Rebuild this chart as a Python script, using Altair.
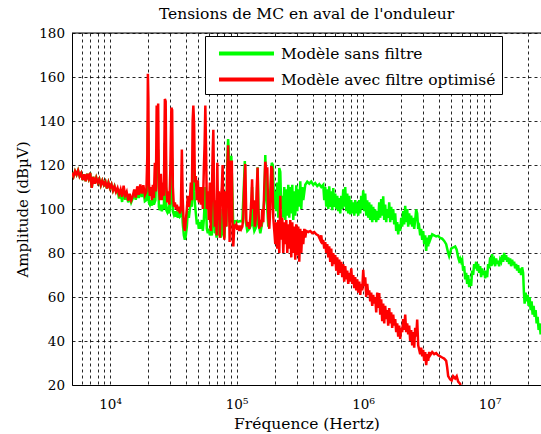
import altair as alt
import pandas as pd

# Frequencies are given as log10(f / Hz); amplitudes in dBµV.
# Below ~11 kHz both models give the same spectrum.
common_logf = [3.699, 3.711, 3.723, 3.735, 3.747, 3.759, 3.771, 3.783, 3.795, 3.807,
               3.819, 3.831, 3.843, 3.855, 3.867, 3.879, 3.891, 3.903, 3.915, 3.927,
               3.939, 3.951, 3.963, 3.975, 3.987, 3.999, 4.011, 4.023, 4.035, 4.047]
common_db = [116.5, 114.8, 117.2, 115.6, 117.5, 114.9, 116.3, 113.2, 115.8, 112.6,
             116.0, 113.8, 116.4, 109.6, 114.6, 111.5, 114.2, 112.0, 113.6, 110.8,
             112.9, 111.0, 112.4, 109.3, 112.0, 109.6, 111.2, 108.4, 110.3, 107.8]

# Model without filter
green_logf = [4.059, 4.071, 4.083, 4.095, 4.107, 4.119, 4.131, 4.143, 4.155, 4.167,
              4.179, 4.191, 4.203, 4.215, 4.227, 4.239, 4.251, 4.263, 4.275,
              4.2869, 4.2948, 4.2988, 4.3027, 4.3067, 4.3146, 4.3225, 4.3304, 4.3383, 4.3462,
              4.3580, 4.3683, 4.3801, 4.3857, 4.3936, 4.4015, 4.4094, 4.4173, 4.4252, 4.4331,
              4.4394, 4.4449, 4.4528, 4.4607, 4.4686, 4.4765, 4.4844, 4.4907, 4.4963, 4.5042,
              4.5121, 4.5200, 4.5279, 4.5358, 4.5437, 4.5516, 4.5595, 4.5674, 4.5737, 4.5832,
              4.5911, 4.5990, 4.6069, 4.6148, 4.6227, 4.6306, 4.6385, 4.6464, 4.6527, 4.6582,
              4.6645, 4.6701, 4.6780, 4.6859, 4.6938, 4.7017, 4.7096, 4.7175, 4.7254, 4.7333,
              4.7412, 4.7530, 4.7649, 4.7728, 4.7807, 4.7886, 4.7965, 4.8044, 4.8162, 4.8281,
              4.8360, 4.8423, 4.8478, 4.8597, 4.8676, 4.8755, 4.8834, 4.8897, 4.8952, 4.9031,
              4.9110, 4.9189, 4.9268, 4.9331, 4.9387, 4.9450, 4.9505, 4.9584, 4.9663, 4.9742,
              4.9821, 4.9979, 5.0137, 5.0295, 5.0453, 5.0572, 5.0651, 5.0730, 5.0848, 5.1006,
              5.1164, 5.1227, 5.1283, 5.1401, 5.1559, 5.1662, 5.1757, 5.1875, 5.2033, 5.2191,
              5.2270, 5.2349, 5.2507, 5.2665, 5.2784, 5.2863, 5.2981, 5.3060, 5.3139, 5.3218,
              5.3297, 5.3376, 5.3455, 5.3534, 5.3613, 5.3692, 5.3771, 5.3850, 5.3929, 5.4008,
              5.4087, 5.4166, 5.4245, 5.4324, 5.4403, 5.4482, 5.4561, 5.4640, 5.4719, 5.4798,
              5.4877, 5.4956, 5.5035, 5.5114, 5.5193, 5.5272, 5.5430, 5.5588, 5.5746, 5.5904,
              5.6062, 5.6220, 5.6378, 5.6536, 5.6694, 5.6852, 5.6931, 5.7010, 5.7089, 5.7168,
              5.7247, 5.7326, 5.7405, 5.7484, 5.7563, 5.7642, 5.7721, 5.7800, 5.7879, 5.7958,
              5.8037, 5.8116, 5.8195, 5.8274, 5.8353, 5.8432, 5.8511, 5.8590, 5.8669, 5.8748,
              5.8827, 5.8906, 5.8985, 5.9064, 5.9143, 5.9222, 5.9301, 5.9380, 5.9459, 5.9538,
              5.9617, 5.9696, 5.9775, 5.9854, 5.9933, 6.0012, 6.0091, 6.0170, 6.0249, 6.0328,
              6.0407, 6.0486, 6.0565, 6.0644, 6.0723, 6.0802, 6.0881, 6.0960, 6.1039, 6.1118,
              6.1197, 6.1276, 6.1355, 6.1434, 6.1513, 6.1592, 6.1671, 6.1750, 6.1829, 6.1908,
              6.1987, 6.2066, 6.2145, 6.2224, 6.2303, 6.2382, 6.2461, 6.2540, 6.2619, 6.2698,
              6.2777, 6.2856, 6.2935, 6.3014, 6.3093, 6.3172, 6.3251, 6.3330, 6.3409, 6.3488,
              6.3567, 6.3646, 6.3725, 6.3804, 6.3883, 6.3962, 6.4041, 6.4120, 6.4199, 6.4278,
              6.4357, 6.4436, 6.4515, 6.4594, 6.4673, 6.4752, 6.4831, 6.4910, 6.4989, 6.5068,
              6.5147, 6.5226, 6.5305, 6.5463, 6.5621, 6.5779, 6.5937, 6.6095, 6.6253, 6.6411,
              6.6569, 6.6648, 6.6727, 6.6806, 6.6885, 6.6964, 6.7122, 6.7280, 6.7399, 6.7517,
              6.7596, 6.7675, 6.7754, 6.7833, 6.7912, 6.7991, 6.8070, 6.8149, 6.8228, 6.8307,
              6.8386, 6.8465, 6.8544, 6.8623, 6.8702, 6.8781, 6.8860, 6.8939, 6.9018, 6.9097,
              6.9176, 6.9255, 6.9334, 6.9413, 6.9492, 6.9571, 6.9650, 6.9729, 6.9808, 6.9887,
              6.9966, 7.0045, 7.0124, 7.0203, 7.0282, 7.0361, 7.0440, 7.0519, 7.0598, 7.0677,
              7.0756, 7.0835, 7.0914, 7.0993, 7.1072, 7.1151, 7.1230, 7.1309, 7.1388, 7.1467,
              7.1546, 7.1625, 7.1704, 7.1783, 7.1862, 7.1941, 7.2020, 7.2099, 7.2178, 7.2257,
              7.2336, 7.2415, 7.2494, 7.2573, 7.2652, 7.2715, 7.2771, 7.2850, 7.2929, 7.3008,
              7.3087, 7.3166, 7.3245, 7.3324, 7.3403, 7.3482, 7.3561, 7.3640, 7.3719, 7.3798,
              7.3877, 7.3956, 7.4035, 7.4114]
green_db = [108.5, 104.8, 107.9, 103.2, 108.6, 104.2, 106.8, 103.0, 105.9, 103.0,
            104.8, 106.9, 104.2, 108.3, 105.0, 109.2, 105.5, 108.8, 103.5,
            104, 112, 140, 130, 103, 102, 104, 101.5, 105, 102,
            104, 125, 127, 101, 99.5, 102, 99, 102, 100, 130,
            129, 99.5, 98.5, 100, 98, 103, 125, 122, 99, 97.5,
            99, 96.5, 98, 96, 98, 96.5, 97, 105, 94, 88,
            86, 88, 92, 99, 96, 100, 104, 101, 112, 118,
            108, 103, 98, 93, 95, 91, 94, 91, 95, 90,
            95, 110, 91, 89, 91, 88, 90, 88, 108, 89,
            90, 87, 100, 88, 90, 87, 91, 100, 89, 87,
            96, 92, 122, 131.8, 126, 94, 116, 124.2, 108, 91,
            94.4, 94.5, 94.2, 94.5, 94.3, 110, 121.8, 94, 90, 91,
            93, 110, 94, 90, 92, 119, 93, 89, 94, 104,
            124.5, 108, 92, 108, 121, 120, 100, 108, 99, 112,
            96, 118.6, 116.9, 100, 106, 96, 110, 95, 109, 97,
            111, 96, 110, 98, 111, 95, 108, 97, 110.8, 99,
            109, 101, 112.6, 100, 110, 104, 111, 112.4, 111.5, 112.5,
            111, 111.8, 110.4, 111.3, 110, 111, 104, 110, 101, 109,
            100, 110.3, 101, 108, 99.5, 109.5, 101, 107, 100, 106,
            99, 105, 98, 106, 100, 109, 101, 110, 99, 107,
            98, 106, 97.5, 104, 98, 103, 97, 104, 98, 103,
            97, 104, 98, 106, 100, 108.5, 99, 107, 97, 104,
            96, 103, 95, 102, 94, 101, 95, 99.7, 94, 99,
            95, 103, 96, 104.5, 97, 105.8, 95, 102, 94, 100,
            96, 103, 94, 101, 95, 100, 93, 98, 90, 94,
            88.5, 93, 90, 96, 92, 99, 93, 101.4, 94, 100,
            92, 98, 93, 97, 92, 96, 91, 95, 99.8, 98,
            91, 92, 88, 91, 86, 90, 84, 88, 81, 87,
            83, 88, 86, 88.5, 88, 87.5, 87.8, 86.8, 86.5, 85.5,
            84, 82, 80, 78.5, 80, 82, 82.5, 83, 81.5, 78,
            76.5, 77.5, 76, 77, 72, 74, 68, 71, 66, 70,
            64.5, 68, 65, 72, 70, 75, 73, 76, 72, 75,
            71, 74, 69, 73, 70, 72, 68.5, 72, 69, 75,
            73, 78, 74, 79.5, 76, 77, 74, 77.5, 75, 76.5,
            74, 77, 76, 79, 76, 80, 77, 79, 76, 78,
            75, 77.5, 74, 77, 74.5, 76, 73, 75, 72, 74.5,
            71, 73, 70, 73.5, 71, 62, 57, 62, 58, 61,
            56, 60, 54, 58, 52, 56, 51, 54, 48, 51,
            45, 48, 43, 46]

# Model with optimised filter
red_logf = [4.059, 4.071, 4.083, 4.095, 4.107, 4.119, 4.131, 4.143, 4.155, 4.167,
            4.179, 4.191, 4.203, 4.215, 4.227, 4.239, 4.251, 4.263, 4.275,
            4.2869, 4.2948, 4.2988, 4.3027, 4.3067, 4.3146, 4.3225, 4.3304, 4.3383, 4.3462,
            4.3541, 4.3620, 4.3683, 4.3738, 4.3801, 4.3857,
            4.3936, 4.4015, 4.4094, 4.4173, 4.4252, 4.4331, 4.4394, 4.4449, 4.4528, 4.4607,
            4.4686, 4.4765, 4.4844, 4.4907, 4.4963,
            4.5042, 4.5121, 4.5200, 4.5279, 4.5358, 4.5437, 4.5516, 4.5595, 4.5674, 4.5737,
            4.5832, 4.5911, 4.5990, 4.6069, 4.6148, 4.6227, 4.6306, 4.6385, 4.6464,
            4.6527, 4.6582, 4.6645, 4.6701, 4.6780, 4.6859, 4.6938, 4.7017, 4.7096, 4.7175,
            4.7254, 4.7333, 4.7412, 4.7475, 4.7530, 4.7593, 4.7649, 4.7728, 4.7807, 4.7886,
            4.7965, 4.8044,
            4.8107, 4.8162, 4.8217, 4.8281, 4.8360, 4.8423, 4.8478, 4.8541, 4.8597, 4.8676,
            4.8755, 4.8834, 4.8897, 4.8952, 4.9031, 4.9110, 4.9189, 4.9268, 4.9331, 4.9387,
            4.9450, 4.9505, 4.9568, 4.9624, 4.9687, 4.9742,
            4.9821, 4.9900, 4.9979, 5.0058, 5.0137, 5.0216, 5.0295, 5.0374, 5.0453, 5.0532,
            5.0611, 5.0690, 5.0769, 5.0848, 5.0927, 5.1006, 5.1085, 5.1164, 5.1227, 5.1283,
            5.1362, 5.1441, 5.1520, 5.1599, 5.1662, 5.1717, 5.1796, 5.1875,
            5.1954, 5.2033, 5.2112, 5.2191, 5.2270, 5.2349, 5.2428, 5.2507, 5.2586, 5.2665,
            5.2744, 5.2823, 5.2902, 5.2981, 5.3060, 5.3139, 5.3218, 5.3297, 5.3376, 5.3455,
            5.3534, 5.3613, 5.3692, 5.3771, 5.3850, 5.3929, 5.4008, 5.4087, 5.4166, 5.4245,
            5.4324, 5.4403, 5.4482, 5.4561, 5.4640, 5.4719, 5.4798, 5.4877, 5.4956, 5.5035,
            5.5114, 5.5193, 5.5272, 5.5351, 5.5430,
            5.5509, 5.5667, 5.5825, 5.5983, 5.6141, 5.6299, 5.6457, 5.6615,
            5.6694, 5.6773, 5.6852, 5.6931, 5.7010, 5.7089, 5.7168, 5.7247, 5.7326, 5.7405,
            5.7484, 5.7563, 5.7642, 5.7721, 5.7800, 5.7879, 5.7958, 5.8037, 5.8116, 5.8195,
            5.8274, 5.8353, 5.8432, 5.8511, 5.8590, 5.8669, 5.8748, 5.8827, 5.8906, 5.8985,
            5.9064, 5.9143, 5.9222, 5.9301, 5.9380, 5.9459, 5.9538, 5.9617, 5.9696, 5.9775,
            5.9854, 5.9933,
            6.0012, 6.0091, 6.0170, 6.0249, 6.0328, 6.0407, 6.0486, 6.0565, 6.0644, 6.0723,
            6.0802, 6.0881, 6.0960, 6.1039, 6.1118, 6.1197, 6.1276, 6.1355, 6.1434, 6.1513,
            6.1592, 6.1671, 6.1750, 6.1829, 6.1908, 6.1987, 6.2066, 6.2145, 6.2224, 6.2303,
            6.2382, 6.2461, 6.2540, 6.2619, 6.2698, 6.2777, 6.2856, 6.2935, 6.3014, 6.3093,
            6.3172, 6.3251, 6.3330, 6.3409, 6.3488, 6.3567, 6.3646, 6.3725, 6.3804, 6.3883,
            6.3962, 6.4041, 6.4120, 6.4199, 6.4278, 6.4357, 6.4436, 6.4515, 6.4594, 6.4673,
            6.4752, 6.4831, 6.4910, 6.4989, 6.5068, 6.5147, 6.5226, 6.5305, 6.5463, 6.5621,
            6.5779, 6.5937, 6.6095, 6.6253, 6.6411, 6.6569, 6.6648, 6.6727, 6.6885, 6.7004,
            6.7122, 6.7280, 6.7399, 6.7517, 6.7675, 6.7754]
red_db = [109.5, 106.8, 108.9, 105.6, 110.6, 106.2, 107.8, 103.8, 106.9, 104.0,
          105.8, 108.9, 105.2, 110.3, 106.5, 111.2, 107.0, 110.8, 106.4,
          108, 125, 161.5, 150, 112, 106, 110, 104, 111, 105,
          121, 108, 147, 120, 148, 110,
          104, 116, 104, 112, 106, 150, 149, 110, 103, 108,
          102, 118, 146, 145, 110,
          101, 103, 100, 102, 99, 101, 98, 100, 127, 105,
          92, 90, 95, 100, 106, 101, 104, 112, 104,
          140, 147, 138, 112, 115, 104, 113, 103, 110, 102,
          110, 100, 118, 130, 147, 125, 100, 108, 95, 112,
          90, 105,
          125, 136, 110, 92, 104, 88, 121, 95, 108, 87,
          104, 110, 120, 98, 86, 108, 92, 118, 129, 112,
          85, 122, 95, 122, 88, 83,
          93, 92, 93, 90.5, 92.5, 90, 92.5, 91, 92, 96,
          112, 120.5, 95, 92, 94, 91, 96, 104, 113.5, 100,
          104, 92, 96, 110, 118.8, 100, 91, 95,
          92, 100, 94, 110, 121.5, 117, 119, 96, 91, 100,
          119.5, 118, 96, 90, 84, 94, 82, 95, 80, 106,
          86, 96, 80, 94, 84, 95, 80, 93, 82, 95,
          78, 94, 80, 92, 77, 93, 79, 92, 76, 91,
          80, 90, 84, 91, 87,
          90, 89.5, 90, 89, 89.5, 88.5, 88, 86,
          88, 84, 86, 82, 85, 80, 84, 78, 83, 76,
          82, 74, 80, 75, 79, 72, 78, 70, 77, 71,
          76, 69, 75, 67, 74, 68, 72, 66, 71, 67,
          73, 66, 70, 64, 69, 63, 68, 62, 67, 61,
          66, 63,
          72.4, 65, 69, 60, 66, 61, 63, 58, 62, 56,
          61, 57, 60, 53, 62, 55, 61.8, 52, 59, 49,
          57, 48, 56, 50, 54, 47, 55, 48, 53, 46,
          52, 47, 50, 44, 48, 42, 47, 41, 46, 44,
          50, 45, 52, 44, 48, 43, 47, 40, 45, 38,
          44, 37, 46, 42, 49.7, 38, 36, 34, 37, 33,
          36, 31, 35, 29, 34, 31, 35, 33.5, 35, 34,
          34.5, 33.5, 33, 32.5, 32, 31, 28, 24, 22.5, 22,
          24, 23, 24, 21.5, 20.5, 18]

GREEN_NAME = "Modèle sans filtre"
RED_NAME = "Modèle avec filtre optimisé"

x_grid = [5e3, 6e3, 7e3, 8e3, 9e3,
          1e4, 2e4, 3e4, 4e4, 5e4, 6e4, 7e4, 8e4, 9e4,
          1e5, 2e5, 3e5, 4e5, 5e5, 6e5, 7e5, 8e5, 9e5,
          1e6, 2e6, 3e6, 4e6, 5e6, 6e6, 7e6, 8e6, 9e6,
          1e7, 2e7]
y_ticks = [20, 40, 60, 80, 100, 120, 140, 160, 180]

SERIF = "DejaVu Serif"


def series_frame(logf, db, name):
    return pd.DataFrame({
        "freq": [10 ** v for v in logf],
        "amp": db,
        "model": name,
    })


df = pd.concat([
    series_frame(common_logf + green_logf, common_db + green_db, GREEN_NAME),
    series_frame(common_logf + red_logf, common_db + red_db, RED_NAME),
], ignore_index=True)

x_label_expr = (
    "datum.value == 10000 ? '10\u2074' : datum.value == 100000 ? '10\u2075' : "
    "datum.value == 1000000 ? '10\u2076' : datum.value == 10000000 ? '10\u2077' : ''"
)

x_enc = alt.X(
    "freq:Q",
    scale=alt.Scale(type="log", domain=[5000, 2.55e7]),
    axis=alt.Axis(
        values=x_grid, labelExpr=x_label_expr, title="Fréquence (Hertz)",
        grid=True, gridColor="black", gridDash=[3, 3], gridOpacity=0.85,
        ticks=False, tickSize=0, labelPadding=23, labelBaseline="alphabetic",
        labelFont=SERIF, labelFontSize=13.5, labelColor="black",
        labelFlush=False, labelOverlap=False,
        domainColor="black", domainWidth=1,
        titleFont=SERIF, titleFontSize=15.5, titleFontWeight="normal",
        titleColor="black", titleY=43, titleBaseline="alphabetic",
    ),
)
y_enc = alt.Y(
    "amp:Q",
    scale=alt.Scale(domain=[20, 180]),
    axis=alt.Axis(
        values=y_ticks, title="Amplitude (dBµV)",
        grid=True, gridColor="black", gridDash=[3, 3], gridOpacity=0.85,
        ticks=False, tickSize=0, labelPadding=7.5,
        labelFont=SERIF, labelFontSize=13.5, labelColor="black",
        domainColor="black", domainWidth=1,
        titleFont=SERIF, titleFontSize=15, titleFontWeight="normal",
        titleColor="black", titleX=-50, titleY=176, titleAngle=270,
        titleAlign="center", titleBaseline="middle",
    ),
)

pad = "\u00a0" * 22
color_enc = alt.Color(
    "model:N",
    scale=alt.Scale(domain=[GREEN_NAME, RED_NAME], range=["#00ff00", "#ff0000"]),
    legend=alt.Legend(
        orient="none", legendX=133, legendY=3, title=None,
        symbolType="M-0.37,0H5.42", symbolSize=361, symbolStrokeWidth=4,
        labelOffset=47, labelFont=SERIF, labelFontSize=15.5, labelColor="black",
        labelLimit=1000, labelExpr="datum.label + '" + pad + "'",
        fillColor="white", strokeColor="black", padding=6, rowPadding=6,
    ),
)

base = alt.Chart(df).mark_line(clip=True, strokeWidth=2.5).encode(
    x=x_enc, y=y_enc, color=color_enc
)
green_line = base.transform_filter(alt.datum.model == GREEN_NAME)
red_line = base.transform_filter(alt.datum.model == RED_NAME)

top_border = alt.Chart(pd.DataFrame({"amp": [180]})).mark_rule(
    color="black", strokeWidth=1
).encode(y=alt.Y("amp:Q"))

chart = alt.layer(green_line, red_line, top_border).properties(
    width=469,
    height=352,
    autosize=alt.AutoSizeParams(type="none"),
    padding={"left": 72, "top": 33, "right": 0, "bottom": 49},
    title=alt.TitleParams(
        "Tensions de MC en aval de l'onduleur", font=SERIF, fontSize=15.5,
        fontWeight="normal", color="black", anchor="middle", frame="group",
        offset=4,
    ),
).configure_view(stroke=None).configure(background="white")

chart.save("out.html", embed_options={"renderer": "svg", "actions": False})
